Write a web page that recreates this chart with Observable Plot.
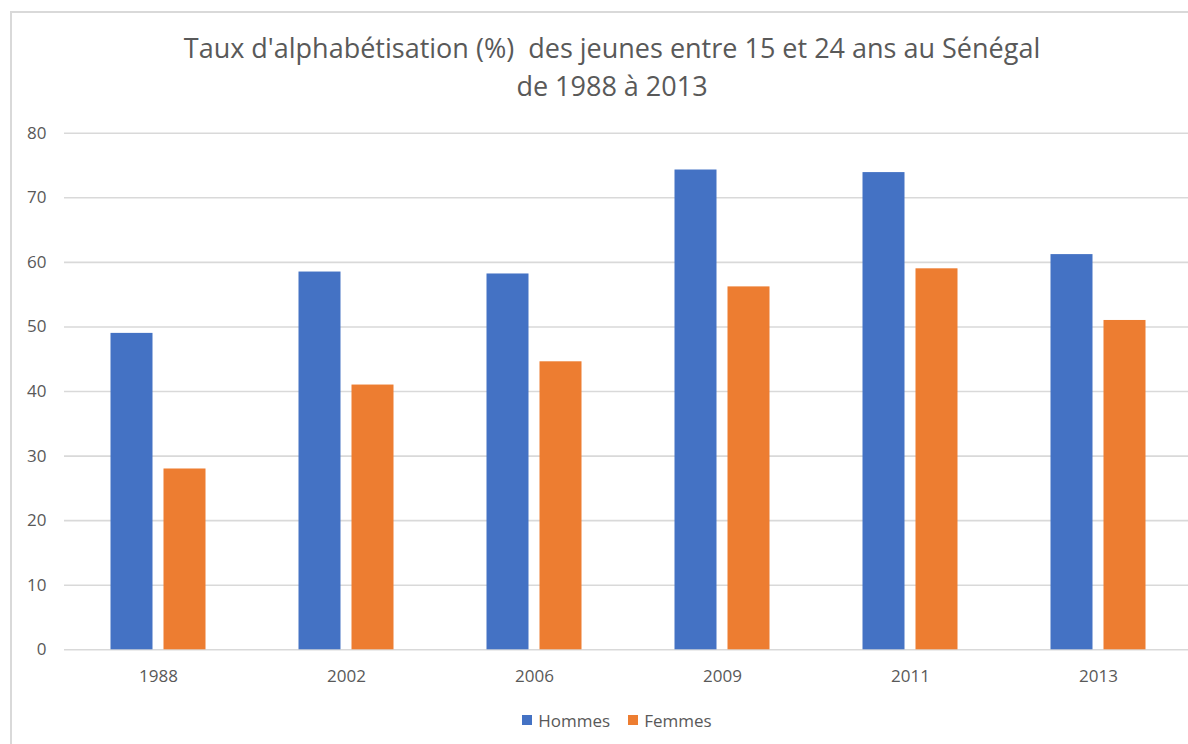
<!DOCTYPE html>
<html>
<head>
<meta charset="utf-8">
<script src="https://cdn.jsdelivr.net/npm/d3@7"></script>
<script src="https://cdn.jsdelivr.net/npm/@observablehq/plot@0.6"></script>
<style>
  html, body { margin: 0; padding: 0; background: #fff; overflow: hidden; width: 1188px; height: 744px; }
  #frame { position: absolute; left: 10px; top: 11px; width: 1300px; height: 900px; border: 2px solid #d9d9d9; box-sizing: border-box; }
  .title { position: absolute; left: 0; width: 1224px; text-align: center; font-family: "Open Sans", sans-serif; font-size: 27px; color: #595959; line-height: 38px; top: 29px; }
  #chart { position: absolute; left: 0; top: 110px; width: 1192px; }
  #chart svg { max-width: none !important; }
  #legend { position: absolute; top: 707px; left: 0; width: 1234px; text-align: center; font-family: "Open Sans", sans-serif; font-size: 17px; color: #595959; }
  #legend span.item { display: inline-flex; align-items: center; margin: 0 9px; }
  #legend span.sw { display: inline-block; width: 10px; height: 10px; margin-right: 6px; }
</style>
</head>
<body>
<div id="frame"></div>
<div class="title">Taux d'alphabétisation (%)&nbsp; des jeunes entre 15 et 24 ans au Sénégal<br>de 1988 à 2013</div>
<div id="chart"></div>
<div id="legend"></div>
<script>
const years = ["1988", "2002", "2006", "2009", "2011", "2013"];
const hommes = [49.0, 58.5, 58.2, 74.3, 73.9, 61.2];
const femmes = [28.0, 41.0, 44.6, 56.2, 59.0, 51.0];
const series = ["Hommes", "Femmes"];
const colors = ["#4472C4", "#ED7D31"];
const yTicks = [0, 10, 20, 30, 40, 50, 60, 70, 80];

const dataH = years.map((y, i) => ({year: y, value: hommes[i], series: "Hommes"}));
const dataF = years.map((y, i) => ({year: y, value: femmes[i], series: "Femmes"}));

const chart = Plot.plot({
  width: 1192,
  height: 600,
  marginTop: 22.7,
  marginBottom: 60.7,
  marginLeft: 64,
  marginRight: 0,
  style: {fontFamily: "'Open Sans', sans-serif", fontSize: "17px", color: "#595959", background: "transparent", maxWidth: "none"},
  x: {domain: years, padding: 0, label: null, tickSize: 0, tickPadding: 20},
  y: {domain: [0, 80], ticks: yTicks, label: null, tickSize: 0, tickPadding: 18},
  color: {domain: series, range: colors},
  marks: [
    Plot.ruleY(yTicks, {stroke: "#d9d9d9", strokeWidth: 1.6}),
    Plot.barY(dataH, {x: "year", y: "value", fill: "series", insetLeft: 46.5, insetRight: 99.5}),
    Plot.barY(dataF, {x: "year", y: "value", fill: "series", insetLeft: 99.5, insetRight: 46.5})
  ]
});
document.getElementById("chart").appendChild(chart);

const legend = document.getElementById("legend");
series.forEach((s, i) => {
  const item = document.createElement("span");
  item.className = "item";
  const sw = document.createElement("span");
  sw.className = "sw";
  sw.style.background = colors[i];
  item.appendChild(sw);
  item.appendChild(document.createTextNode(s));
  legend.appendChild(item);
});
</script>
</body>
</html>
